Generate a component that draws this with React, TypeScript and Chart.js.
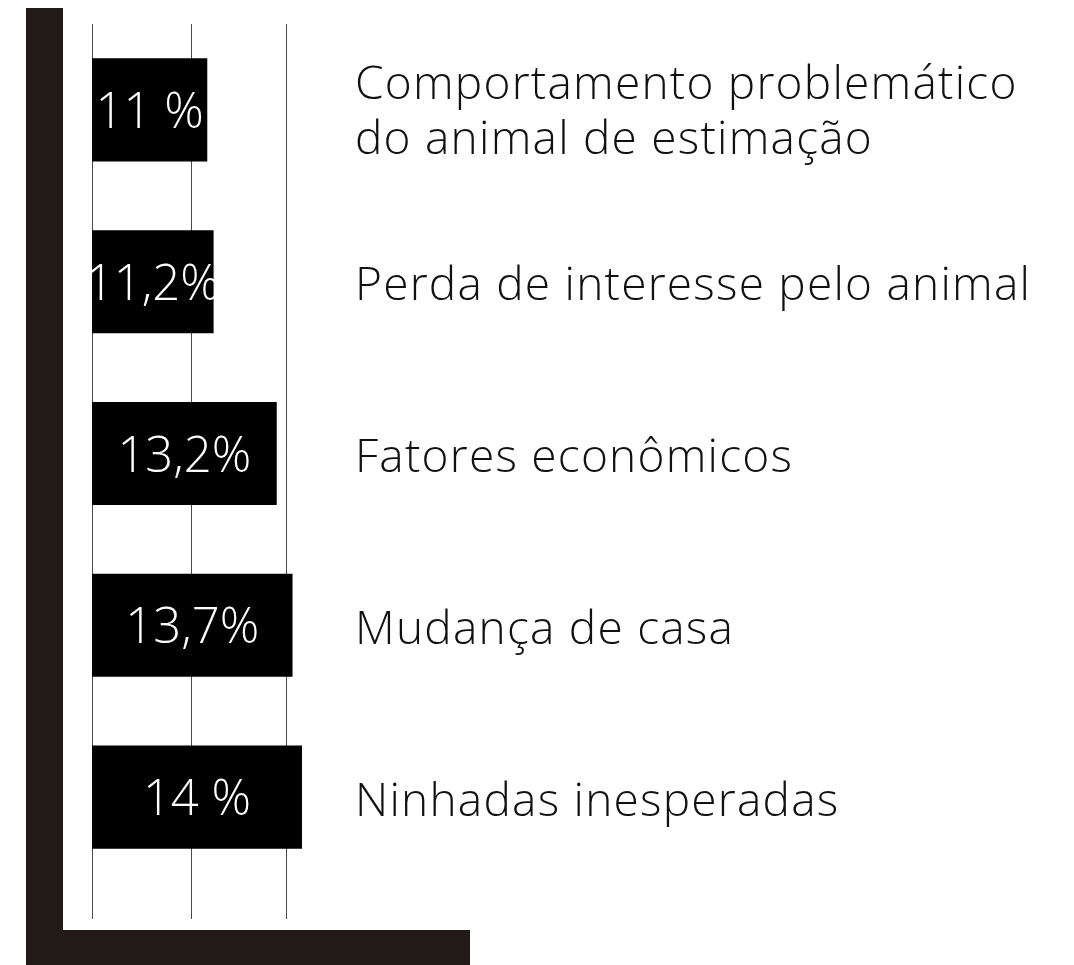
import React, { useEffect, useRef } from "react";
import { Chart, registerables } from "chart.js";

Chart.register(...registerables);

// ---- data ----
const categories: string[][] = [
  ["Comportamento problemático", "do animal de estimação"],
  ["Perda de interesse pelo animal"],
  ["Fatores econômicos"],
  ["Mudança de casa"],
  ["Ninhadas inesperadas"],
];
const percentValues = [11, 11.2, 13.2, 13.7, 14];
const valueLabels = ["11 %", "11,2%", "13,2%", "13,7%", "14 %"];
const gridValues = [7.35, 10.5, 13.5];

// ---- style constants ----
const W = 1074;
const H = 965;
const AXIS_COLOR = "#231b18";
const LABEL_X = 355;
const CAT_FONT_SIZE = 46;
const CAT_FONT = `300 ${CAT_FONT_SIZE}px "Open Sans", sans-serif`;
const VAL_FONT = `300 49px "Open Sans", sans-serif`;
const LINE_GAP = 55;
const REF_TEXT = "Perda de interesse pelo animal";
const REF_WIDTH = 675;

const decorPlugin = {
  id: "decor",
  afterDraw(chart: any) {
    const ctx = chart.ctx;
    const area = chart.chartArea;
    ctx.save();
    // thick L-shaped axis
    ctx.fillStyle = AXIS_COLOR;
    ctx.fillRect(26, 8, 37, H - 8);
    ctx.fillRect(26, 930, 444, H - 930);

    const meta = chart.getDatasetMeta(0);
    // value labels inside bars
    ctx.font = VAL_FONT;
    ctx.fillStyle = "#ffffff";
    ctx.textAlign = "center";
    ctx.textBaseline = "alphabetic";
    const capV = ctx.measureText("1").actualBoundingBoxAscent;
    meta.data.forEach((el: any, i: number) => {
      const left = Math.max(el.base, area.left);
      const cx = (el.x + left) / 2;
      ctx.fillText(valueLabels[i], cx, el.y + capV / 2);
    });

    // category labels
    ctx.font = CAT_FONT;
    ctx.fillStyle = "#111111";
    ctx.textAlign = "left";
    const measured = ctx.measureText(REF_TEXT).width;
    const spacing = (REF_WIDTH - measured) / (REF_TEXT.length - 1);
    (ctx as any).letterSpacing = `${spacing}px`;
    const capC = ctx.measureText("H").actualBoundingBoxAscent;
    meta.data.forEach((el: any, i: number) => {
      const lines = categories[i];
      const n = lines.length;
      lines.forEach((line, j) => {
        const cy = el.y + (n === 1 ? 2 : 0) + (j - (n - 1) / 2) * LINE_GAP;
        ctx.fillText(line, LABEL_X, cy + capC / 2);
      });
    });
    (ctx as any).letterSpacing = "0px";
    ctx.restore();
  },
};

export default function App() {
  const ref = useRef<HTMLCanvasElement | null>(null);
  useEffect(() => {
    document.body.style.margin = "0";
    const canvas = ref.current!;
    const chart = new Chart(canvas, {
      type: "bar",
      data: {
        labels: categories,
        datasets: [
          {
            data: percentValues,
            backgroundColor: "#000000",
            borderWidth: 0,
            barPercentage: 0.6,
            categoryPercentage: 1,
          },
        ],
      },
      options: {
        indexAxis: "y",
        animation: false,
        responsive: false,
        devicePixelRatio: 1,
        layout: { padding: { left: 92, right: 14, top: 24, bottom: 46 } },
        plugins: { legend: { display: false }, tooltip: { enabled: false } },
        scales: {
          x: {
            type: "linear",
            min: 7.35,
            max: 38,
            afterBuildTicks: (scale: any) => {
              scale.ticks = gridValues.map((v) => ({ value: v }));
            },
            grid: {
              color: "#4a4a4a",
              lineWidth: 1,
              tickLength: 36,
              drawTicks: true,
            },
            border: { display: false },
            ticks: { display: false },
          },
          y: {
            type: "category",
            display: false,
            offset: true,
          },
        },
      },
      plugins: [decorPlugin],
    } as any);
    return () => chart.destroy();
  }, []);
  return (
    <div style={{ position: "absolute", left: 0, top: 0, width: W, height: H, background: "#fff" }}>
      <canvas ref={ref} width={W} height={H} style={{ display: "block" }} />
    </div>
  );
}
